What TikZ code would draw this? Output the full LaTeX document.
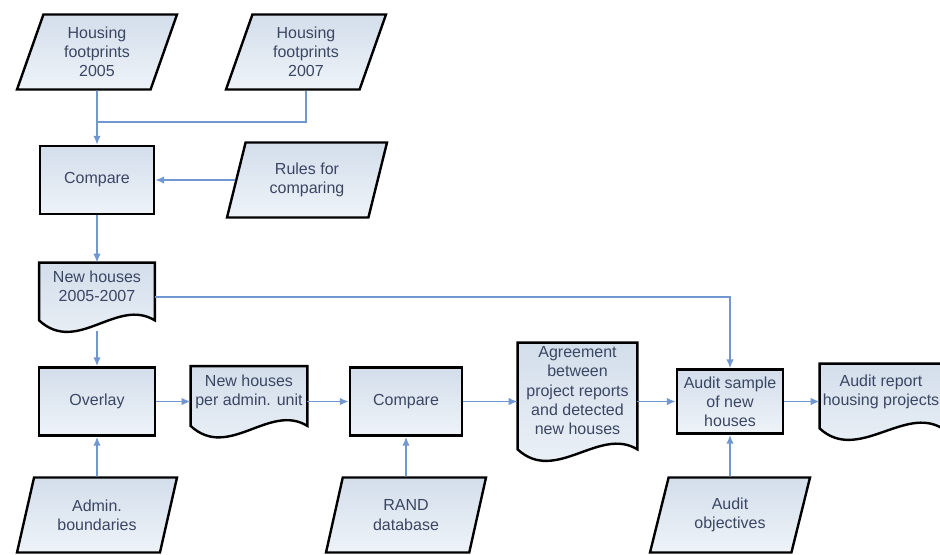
\documentclass[tikz,border=0pt]{standalone}
\usepackage{fontspec}
\setmainfont{Liberation Sans}
\usetikzlibrary{shapes.geometric,arrows.meta,backgrounds}
\definecolor{boxfillA}{HTML}{D3DEEB}
\definecolor{boxfillB}{HTML}{EEF3F8}
\definecolor{flowline}{HTML}{7097D0}
\definecolor{boxtext}{HTML}{3B4663}

\begin{document}
\begin{tikzpicture}[x=0.5pt,y=-0.5pt,
  boxtxt/.style={font=\fontsize{8}{9.6}\selectfont, text=boxtext, align=center, inner sep=1pt},
  box/.style={boxtxt, draw=black, line width=1.2pt, top color=boxfillA, bottom color=boxfillB},
  proc/.style={box, rectangle, minimum width=57pt, minimum height=34pt},
  data/.style={box, trapezium, trapezium left angle=64, trapezium right angle=116,
    trapezium stretches body, minimum width=80pt, minimum height=37.5pt},
  doc/.style={boxtxt, rectangle, text depth=11pt, minimum width=57.5pt, minimum height=35pt},
  docline/.style={draw=black, line width=1.2pt, top color=boxfillA, bottom color=boxfillB},
  link/.style={draw=flowline, line width=0.9pt},
  flow/.style={link, -{Latex[length=4.5pt,width=3.8pt]}}]
\useasboundingbox (0,0) rectangle (940,554);
\node[data] (h05) at (97,52) {Housing\\footprints\\2005};
\node[data] (h07) at (306,52) {Housing\\footprints\\2007};
\node[proc] (cmpA) at (97,180) {Compare};
\node[data] (rules) at (307,180) {Rules for\\comparing};
\node[doc, minimum height=34pt] (newh) at (97,297) {New houses\\2005-2007};
\node[proc, minimum width=58pt] (overlay) at (97,401.5) {Overlay};
\node[doc, minimum width=58pt] (perunit) at (249,401.5) {New houses\\per admin. unit};
\node[proc, minimum width=56pt] (cmpB) at (406,401.5) {Compare};
\node[doc, minimum width=59.5pt, minimum height=58.5pt] (agree) at (577.5,401.5)
  {Agreement\\between\\project reports\\and detected\\new houses};
\node[proc, minimum width=53pt, minimum height=32pt] (sample) at (730,401.5) {Audit sample\\of new\\houses};
\node[doc, minimum width=61pt, minimum height=37.5pt] (report) at (881,401.5) {Audit report\\housing projects};
\node[data] (admin) at (97,515) {Admin.\\boundaries};
\node[data] (rand) at (406,515) {RAND\\database};
\node[data] (aobj) at (730,515) {Audit\\objectives};
% document outlines with the wavy bottom
\begin{scope}[on background layer]
\foreach \n in {newh,perunit,agree,report}
  \draw[docline] (\n.north west) -- (\n.north east) -- ([yshift=5.5pt]\n.south east)
    .. controls +(-38,-23.5) and +(38,35) .. ([yshift=5.5pt]\n.south west) -- cycle;
\end{scope}
\coordinate (join) at (97,122);
\draw[link] (h07) |- (join);
\foreach \from/\to in {h05/cmpA,rules/cmpA,cmpA/newh,newh/overlay,admin/overlay,
  overlay/perunit,perunit/cmpB,rand/cmpB,cmpB/agree,agree/sample,aobj/sample,sample/report}
  \draw[flow] (\from) -- (\to);
\draw[flow] (newh.east) -| (sample);
\end{tikzpicture}
\end{document}
